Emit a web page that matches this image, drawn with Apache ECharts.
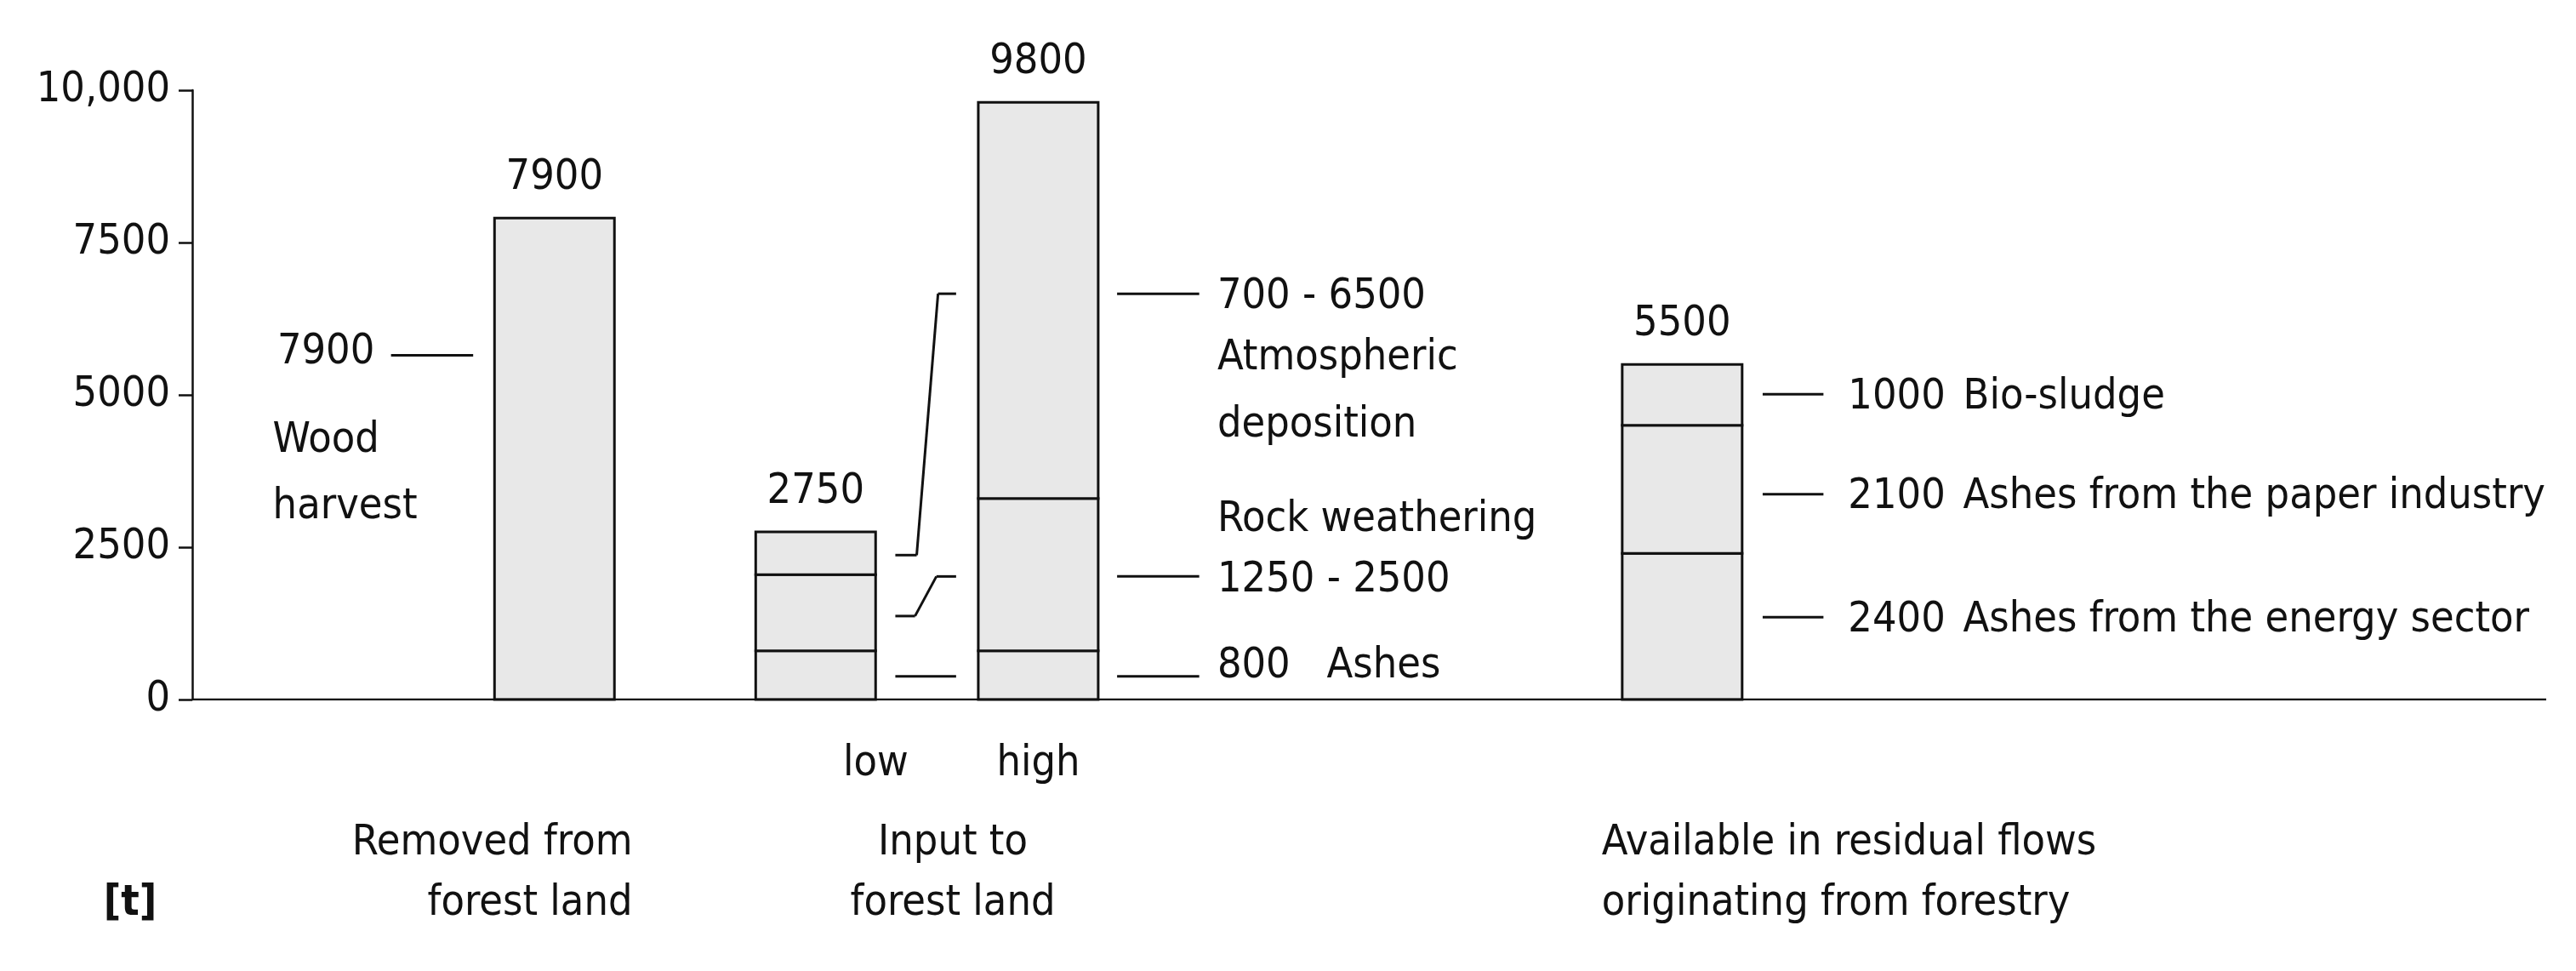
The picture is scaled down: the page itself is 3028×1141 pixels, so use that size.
<!DOCTYPE html>
<html><head><meta charset="utf-8">
<script src="https://cdn.jsdelivr.net/npm/echarts@6/dist/echarts.min.js"></script>
<style>html,body{margin:0;padding:0;background:#fff}#c{width:3028px;height:1141px}</style>
</head><body><div id="c"></div>
<script>
const S = 3028/1568;
const FONT = "'Liberation Sans Narrow','DejaVu Sans Condensed','Roboto',sans-serif";
const yTicks = [0, 2500, 5000, 7500, 10000];
const barCenters = [337.5, 496.5, 632, 1024];
const barTotals = [7900, 2750, 9800, 5500];
const barSegments = [
  [0, 7900],
  [0, 800, 2050, 2750],
  [0, 800, 3300, 9800],
  [0, 2400, 4500, 5500]
];
const annoLines = [
  [238,5650,288,5650],
  [545,380,582,380],
  [545,1370,557,1370],[557,1370,570,2020],[570,2020,582,2020],
  [545,2370,558,2370],[558,2370,571,6660],[571,6660,582,6660],
  [680,6660,730,6660],[680,2020,730,2020],[680,380,730,380],
  [1073,5010,1110,5010],[1073,3370,1110,3370],[1073,1350,1110,1350]
];
const annoTexts = [
  [228,5700,'7900','right'],
  [166,4250,'Wood','left'],[166,3150,'harvest','left'],
  [741,6600,'700 - 6500','left'],[741,5600,'Atmospheric','left'],[741,4500,'deposition','left'],
  [741,2950,'Rock weathering','left'],[741,1950,'1250 - 2500','left'],[741,550,'800   Ashes','left'],
  [1125,4960,'1000','left'],[1195,4960,'Bio-sludge','left'],
  [1125,3320,'2100','left'],[1195,3320,'Ashes from the paper industry','left'],
  [1125,1300,'2400','left'],[1195,1300,'Ashes from the energy sector','left']
];
const bottomTexts = [
  [533,465,'low','center'],[632,465,'high','center'],
  [385,513,'Removed from','right'],[385,550,'forest land','right'],
  [580,513,'Input to','center'],[580,550,'forest land','center'],
  [975,513,'Available in residual flows','left'],[975,550,'originating from forestry','left']
];
const segData = [];
barSegments.forEach((b,i)=>{ for(let k=0;k<b.length-1;k++) segData.push([barCenters[i], b[k], b[k+1]]); });
const chart = echarts.init(document.getElementById('c'));
const txt = {fontFamily:FONT, fontSize:50, fill:'#111'};
chart.setOption({
  animation:false,
  grid:{left:226, right:35, top:106, bottom:319},
  xAxis:{type:'value', min:117, max:1550, show:false},
  yAxis:{type:'value', min:0, max:10000, interval:2500,
    axisLine:{show:true, lineStyle:{color:'#111', width:2.5}},
    axisTick:{show:true, length:16, lineStyle:{color:'#111', width:2.5}},
    splitLine:{show:false},
    axisLabel:{fontFamily:FONT, fontSize:50, color:'#111', margin:26,
      formatter:v=>v===10000?'10,000':String(v)}},
  series:[
    {type:'custom', clip:false, data:segData, renderItem:(p,api)=>{
      const x=api.value(0), a=api.coord([x, api.value(1)]), b=api.coord([x, api.value(2)]);
      const w=api.size([73,0])[0];
      return {type:'rect', shape:{x:a[0]-w/2, y:b[1], width:w, height:a[1]-b[1]},
        style:{fill:'#e8e8e8', stroke:'#111', lineWidth:3}};
    }},
    {type:'custom', clip:false, data:barCenters.map((c,i)=>[c,barTotals[i]]), renderItem:(p,api)=>{
      const pt=api.coord([api.value(0), api.value(1)]);
      return {type:'text', style:Object.assign({text:String(api.value(1)), x:pt[0], y:pt[1]-22, align:'center', verticalAlign:'bottom'}, txt)};
    }},
    {type:'custom', clip:false, data:annoLines, renderItem:(p,api)=>{
      const a=api.coord([api.value(0),api.value(1)]), b=api.coord([api.value(2),api.value(3)]);
      return {type:'line', shape:{x1:a[0],y1:a[1],x2:b[0],y2:b[1]}, style:{stroke:'#111', lineWidth:3}};
    }},
    {type:'custom', clip:false, data:annoTexts, renderItem:(p,api)=>{
      const d=annoTexts[p.dataIndex], pt=api.coord([d[0],d[1]]);
      return {type:'text', style:Object.assign({text:d[2], x:pt[0], y:pt[1], align:d[3], verticalAlign:'middle'}, txt)};
    }},
    {type:'line', data:[[117,0],[1550,0]], symbol:'none', lineStyle:{color:'#111', width:2.5}, silent:true}
  ],
  graphic: bottomTexts.map(d=>({type:'text', x:d[0]*S, y:d[1]*S,
    style:Object.assign({text:d[2], align:d[3], verticalAlign:'middle'}, txt)})).concat([
    {type:'text', x:63*S, y:550*S, style:Object.assign({text:'[t]', align:'left', verticalAlign:'middle', fontWeight:'bold'}, txt)}])
});
</script></body></html>
